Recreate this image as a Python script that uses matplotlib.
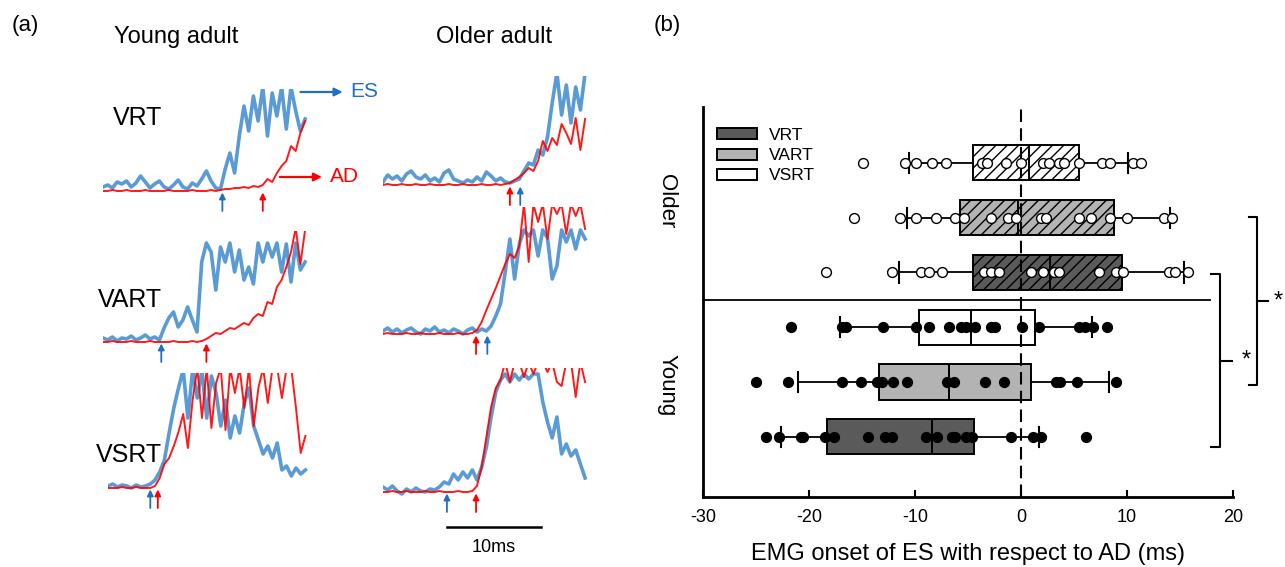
import numpy as np
import matplotlib
matplotlib.use("Agg")
import matplotlib.pyplot as plt
from matplotlib.patches import Patch

plt.rcParams['font.family'] = ['Liberation Sans', 'DejaVu Sans']

# ---------------- DATA: panel (a) EMG traces (amplitude, arbitrary units; 0.5 ms sampling) ----------------
DT_MS = 0.5
ya_vrt_es = [4,6,3,9,7,10,4,8,15,9, 3,7,10,4,2,6,11,4,2,8, 5,12,20,10,3,2,22,38,18,55,
             85,60,95,70,104,55,98,75,104,62, 104,80,60,72]
ya_vrt_ad = [0,0,1,0,0,1,0,0,0,1, 0,0,0,0,1,0,0,0,0,1, 0,0,0,1,0,1,2,2,3,3,
             4,3,5,4,6,12,9,18,25,30, 45,40,58,70]
oa_vrt_es = [3,10,6,9,4,11,14,8,6,10, 4,7,3,12,15,6,4,2,5,3, 8,4,13,9,4,7,3,2,4,6,
             14,22,20,35,30,48,82,112,70,100, 62,98,75,112]
oa_vrt_ad = [0,1,0,0,1,0,0,1,0,0, 1,0,0,0,1,0,0,1,0,0, 0,1,0,0,1,0,1,2,5,8,
             12,17,14,24,44,34,47,40,61,52, 41,67,35,66]
ya_vart_es = [4,2,5,1,4,3,6,2,4,7, 3,5,2,14,24,30,15,22,35,22, 10,80,99,90,52,95,80,99,70,92,
              62,75,58,99,80,99,85,99,70,98, 60,99,72,80]
ya_vart_ad = [0,0,1,0,0,0,1,0,0,0, 1,0,0,0,0,1,0,0,0,1, 0,1,3,6,9,8,11,14,13,16,
              19,17,24,28,26,40,38,55,62,75, 90,114,78,112]
oa_vart_es = [3,6,2,5,1,4,6,2,0,5, 3,7,2,4,1,5,3,0,4,6, 2,5,3,8,18,30,62,95,55,90,
              104,98,104,78,104,96,55,68,104,92, 104,85,104,95]
oa_vart_ad = [0,1,0,0,0,1,0,0,1,0, 0,0,1,0,0,0,1,0,0,1, 4,12,24,35,46,58,70,80,76,88,
              130,72,130,112,130,95,130,120,130,100, 130,118,130,105]
ya_vsrt_es = [2,4,1,3,2,0,3,1,2,4, 8,16,28,55,80,100,118,70,118,90, 118,70,112,95,62,88,50,72,55,85,
              100,62,48,34,42,30,45,18,22,12, 20,14,18]
ya_vsrt_ad = [0,0,0,1,0,0,1,0,0,0, 2,10,24,30,42,56,74,40,88,120, 70,120,60,105,120,58,120,95,120,80,
              120,62,100,120,85,120,120,90,120,120, 80,35,52]
oa_vsrt_es = [5,2,6,1,-2,3,0,4,1,0, 3,2,5,10,8,18,12,20,14,22, 12,25,45,75,100,112,118,110,118,112,
              118,113,118,118,90,70,54,75,38,48, 36,42,28,14]
oa_vsrt_ad = [0,0,1,0,0,1,0,0,0,1, 0,0,1,0,0,0,1,0,0,1, 6,25,55,85,104,112,130,110,130,130,
              115,130,118,130,130,120,130,110,106,130, 130,95,130,110]

# onset times (ms from trace start)
onset_es = {'ya_vrt': 12.7, 'oa_vrt': 14.6, 'ya_vart': 6.2, 'oa_vart': 11.1, 'ya_vsrt': 4.5, 'oa_vsrt': 6.8}
onset_ad = {'ya_vrt': 17.0, 'oa_vrt': 13.5, 'ya_vart': 11.0, 'oa_vart': 9.9, 'ya_vsrt': 5.3, 'oa_vsrt': 9.9}
SCALE_MS = 10

# ---------------- DATA: panel (b) ----------------
row_labels = ['Young VRT', 'Young VART', 'Young VSRT', 'Older VRT', 'Older VART', 'Older VSRT']
q1 =      [-18.3, -13.4, -9.6, -4.5, -5.8, -4.5]
median =  [-8.4,  -6.8,  -4.7,  2.7, -0.3,  0.8]
q3 =      [-4.4,   0.9,   1.3,  9.5,  8.8,  5.5]
whis_lo = [-22.6, -21.0, -17.1, -11.5, -10.8, -10.6]
whis_hi = [1.7,    8.3,   6.7,  15.4, 14.1, 10.1]
young_vrt_pts = [-24.1,-22.8,-20.8,-20.6,-18.5,-17.6,-14.4,-12.8,-12.2,-9.0,-7.9,-6.5,-6.2,-5.2,-4.6,-0.9,1.1,1.9,6.1]
young_vart_pts = [-25.0,-22.0,-16.9,-15.1,-13.6,-13.1,-12.1,-10.8,-7.0,-6.3,-3.4,-1.6,3.3,3.7,5.3,9.0]
young_vsrt_pts = [-21.7,-16.9,-16.5,-13.0,-9.9,-8.7,-6.8,-5.7,-5.2,-4.3,-2.8,-2.5,0.1,1.7,5.5,6.0,6.8,8.1]
older_vrt_pts = [-18.4,-12.2,-9.4,-8.7,-7.5,-3.5,-2.8,-2.1,0.9,2.1,3.1,3.6,7.4,9.0,9.6,14.0,14.5,15.8]
older_vart_pts = [-15.8,-11.4,-9.9,-8.0,-6.2,-5.4,-2.8,-1.2,-0.5,1.9,2.4,5.5,6.6,8.4,10.0,13.5,14.2]
older_vsrt_pts = [-14.9,-10.9,-9.9,-8.4,-7.1,-3.7,-3.2,-1.4,0.0,2.1,2.6,3.6,4.1,5.5,7.6,8.4,10.6,11.3]
x_ticks = [-30, -20, -10, 0, 10, 20]
legend_labels = ['VRT', 'VART', 'VSRT']

# ---------------- figure ----------------
W, H = 1285, 567
fig = plt.figure(figsize=(W/100, H/100), dpi=100)

def fax(x0, y0, x1, y1):
    return fig.add_axes([x0/W, 1-y1/H, (x1-x0)/W, (y1-y0)/H])

def fxy(x, y):
    return (x/W, 1-y/H)

PX_PER_MS = 9.4
BLUE = '#5B9BD5'
RED = '#FF0000'
ARROW_BLUE = '#1F6FC5'

traces = {
    'ya_vrt': (ya_vrt_es, ya_vrt_ad), 'oa_vrt': (oa_vrt_es, oa_vrt_ad),
    'ya_vart': (ya_vart_es, ya_vart_ad), 'oa_vart': (oa_vart_es, oa_vart_ad),
    'ya_vsrt': (ya_vsrt_es, ya_vsrt_ad), 'oa_vsrt': (oa_vsrt_es, oa_vsrt_ad),
}
# layout: start x px, baseline y px, top clip y px
layout = {
    'ya_vrt': (103, 191, 89), 'oa_vrt': (383, 185, 76),
    'ya_vart': (103, 342, 231), 'oa_vart': (383, 334, 207),
    'ya_vsrt': (108, 488, 373), 'oa_vsrt': (383, 492, 368),
}
axes_a = {}
for key, (es, ad) in traces.items():
    x0, yref, ytop = layout[key]
    a = fax(x0, ytop, x0 + 215, yref + 25)
    a.set_xlim(0, 215/PX_PER_MS)
    a.set_ylim(-25, yref - ytop)
    a.axis('off')
    t_es = np.arange(len(es)) * DT_MS
    t_ad = np.arange(len(ad)) * DT_MS
    a.plot(t_es, es, color=BLUE, lw=2.6, solid_joinstyle='round', zorder=2)
    a.plot(t_ad, ad, color=RED, lw=1.4, alpha=0.9, zorder=3)
    for tt, col in ((onset_es[key], ARROW_BLUE), (onset_ad[key], RED)):
        a.annotate('', xy=(tt, -1.5), xytext=(tt, -20),
                   arrowprops=dict(arrowstyle='-|>', color=col, lw=1.3, mutation_scale=9,
                                   shrinkA=0, shrinkB=0), annotation_clip=False)
    axes_a[key] = a

# ES / AD labels
a1 = axes_a['ya_vrt']
a1.annotate('', xy=(25.5, 99), xytext=(21.0, 99),
            arrowprops=dict(arrowstyle='-|>', color=ARROW_BLUE, lw=1.6, mutation_scale=12,
                            shrinkA=0, shrinkB=0), annotation_clip=False)
a1.text(26.3, 99, 'ES', color=ARROW_BLUE, fontsize=15, va='center', ha='left', clip_on=False)
a1.annotate('', xy=(23.3, 14), xytext=(18.8, 14),
            arrowprops=dict(arrowstyle='-|>', color=RED, lw=1.6, mutation_scale=12,
                            shrinkA=0, shrinkB=0), annotation_clip=False)
a1.text(24.1, 14, 'AD', color=RED, fontsize=15, va='center', ha='left', clip_on=False)

# scale bar
a6 = axes_a['oa_vsrt']
a6.plot([6.8, 6.8 + SCALE_MS], [-35, -35], color='black', lw=1.8, clip_on=False)
a6.text(6.8 + SCALE_MS/2, -56, '%dms' % SCALE_MS, ha='center', va='center', fontsize=13, clip_on=False)

# panel (a) texts
fig.text(*fxy(25, 25), '(a)', fontsize=16, ha='center', va='center')
fig.text(*fxy(176, 37), 'Young adult', fontsize=17, ha='center', va='center')
fig.text(*fxy(494, 37), 'Older adult', fontsize=17, ha='center', va='center')
for lab, yy in (('VRT', 118), ('VART', 300), ('VSRT', 455)):
    fig.text(*fxy(162, yy), lab, fontsize=18, ha='right', va='center')
fig.text(*fxy(667, 25), '(b)', fontsize=16, ha='center', va='center')

# ---------------- panel (b) ----------------
ax = fax(703, 107, 1233, 497)
ax.set_xlim(-30, 20)
ax.set_ylim(-0.1, 7.02)
positions = [1, 2, 3, 4, 5, 6]
BOX_W = 0.64
stats = []
for i in range(6):
    stats.append(dict(med=median[i], q1=q1[i], q3=q3[i], whislo=whis_lo[i], whishi=whis_hi[i],
                      fliers=[], label=row_labels[i]))
bp = ax.bxp(stats, positions=positions, orientation='horizontal', widths=BOX_W, capwidths=0.37,
            patch_artist=True, showfliers=False,
            boxprops=dict(edgecolor='black', linewidth=1.4),
            medianprops=dict(color='black', linewidth=1.4, zorder=3),
            whiskerprops=dict(color='black', linewidth=1.3),
            capprops=dict(color='black', linewidth=1.5))
fills = ['#5a5a5a', '#b3b3b3', 'white', '#5a5a5a', '#b3b3b3', 'white']
for i, box in enumerate(bp['boxes']):
    box.set_facecolor(fills[i])
    box.set_zorder(2)

# diagonal hatching for the older-adult boxes (45 deg on screen, ~11 px apart)
px_per_x = 530 / 50.0
px_per_y = 390 / 7.12
hatch_step = 11.3 / px_per_x
rise = BOX_W * px_per_y / px_per_x
for i in range(3, 6):
    box = bp['boxes'][i]
    yc = positions[i]
    for xs in np.arange(q1[i] - rise - hatch_step, q3[i] + hatch_step, hatch_step):
        ln, = ax.plot([xs, xs + rise], [yc - BOX_W/2, yc + BOX_W/2], color='black', lw=1.0, zorder=2.5)
        ln.set_clip_path(box)

all_pts = [young_vrt_pts, young_vart_pts, young_vsrt_pts, older_vrt_pts, older_vart_pts, older_vsrt_pts]
for i, pts in enumerate(all_pts):
    fc = 'black' if i < 3 else 'white'
    ax.scatter(pts, [positions[i]] * len(pts), s=50, facecolor=fc, edgecolor='black',
               linewidth=1.0, zorder=4)

ax.axvline(0, color='black', ls=(0, (6, 3)), lw=1.5, zorder=3)
# group separator
ax.plot([-30, 17.8], [3.5, 3.5], color='black', lw=1.3, clip_on=False)

# significance brackets
def bracket(x_in, x_v, y_lo, y_hi, y_mid, x_tick, x_star):
    ax.plot([x_in, x_v, x_v, x_in], [y_hi, y_hi, y_lo, y_lo], color='black', lw=1.5, clip_on=False)
    ax.plot([x_v, x_tick], [y_mid, y_mid], color='black', lw=1.5, clip_on=False)
    ax.text(x_star, y_mid, '*', fontsize=17, ha='center', va='center', clip_on=False)

bracket(17.9, 18.8, 0.82, 3.97, 2.39, 19.9, 21.2)
bracket(21.5, 22.3, 1.95, 5.01, 3.47, 23.3, 24.3)

ax.set_xticks(x_ticks)
ax.set_xticklabels([str(v) for v in x_ticks])
ax.set_yticks([])
ax.tick_params(axis='x', direction='in', length=5, width=1.5, labelsize=13, pad=9)
for s in ('top', 'right'):
    ax.spines[s].set_visible(False)
for s in ('left', 'bottom'):
    ax.spines[s].set_linewidth(2.0)
ax.set_xlabel('EMG onset of ES with respect to AD (ms)', fontsize=17, labelpad=12)

ax.text(-33.4, 5.3, 'Older', rotation=-90, fontsize=16, ha='center', va='center', clip_on=False)
ax.text(-33.4, 1.95, 'Young', rotation=-90, fontsize=16, ha='center', va='center', clip_on=False)

handles = [Patch(facecolor=fills[i], edgecolor='black', linewidth=1.4) for i in range(3)]
ax.legend(handles, legend_labels, loc='upper left', bbox_to_anchor=((717-703)/530, 1-(128-107)/390),
          frameon=False, fontsize=12.5, handlelength=2.3, handleheight=0.6, handletextpad=0.7,
          labelspacing=0.3, borderaxespad=0, borderpad=0)

fig.savefig('out.png', dpi=100)
